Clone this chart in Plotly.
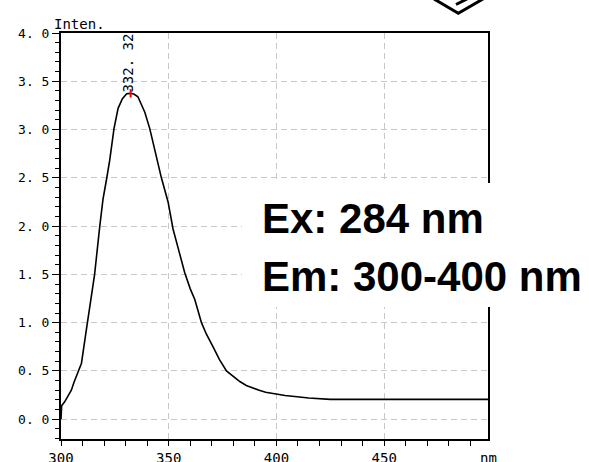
import plotly.graph_objects as go

# ---- data ----
wavelength = [300, 300.3, 301.7, 303, 304.8, 306, 307.6, 309.5, 311.8, 313.3, 315.6, 318, 319.5,
              321.1, 322.6, 324.6, 326.5, 328.5, 330.5, 332.32, 334, 335.7, 338.9, 341.2, 343.5,
              346.6, 349.7, 352, 355, 357.4, 360, 362.1, 365.2, 367.5, 370.6, 373.5, 376.8, 380,
              383, 386, 389.2, 392, 395, 400, 404, 408.5, 415, 425, 450, 475, 498.2]
intensity = [0.0, 0.14, 0.18, 0.23, 0.30, 0.38, 0.48, 0.58, 0.93, 1.14, 1.5, 2.0, 2.28,
             2.48, 2.68, 3.01, 3.22, 3.32, 3.37, 3.375, 3.365, 3.34, 3.18, 3.01, 2.80,
             2.50, 2.25, 1.97, 1.72, 1.52, 1.35, 1.24, 1.0, 0.88, 0.75, 0.62, 0.5, 0.44,
             0.39, 0.35, 0.32, 0.30, 0.28, 0.26, 0.245, 0.235, 0.22, 0.205, 0.205, 0.205, 0.205]
peak_x = [332.32]
peak_y = [3.375]
peak_label = "332. 32"
y_tickvals = [0.0, 0.5, 1.0, 1.5, 2.0, 2.5, 3.0, 3.5, 4.0]
y_ticktext = ["0. 0", "0. 5", "1. 0", "1. 5", "2. 0", "2. 5", "3. 0", "3. 5", "4. 0"]
x_tickvals = [300, 350, 400, 450]
x_ticktext = ["300", "350", "400", "450"]
ex_text = "Ex: 284 nm"
em_text = "Em: 300-400 nm"

W, H = 589, 462
L, R, T, B = 61, 488, 33, 439
def px(x):
    return (x - L) / (R - L)
def py(y):
    return (B - y) / (B - T)

mono = "DejaVu Sans Mono"

fig = go.Figure()
fig.add_trace(go.Scatter(x=wavelength, y=intensity, mode="lines",
                         line=dict(color="black", width=1.6), hoverinfo="skip"))
fig.add_trace(go.Scatter(x=peak_x, y=peak_y, mode="markers",
                         marker=dict(symbol="line-ns", size=6, line=dict(color="red", width=2)),
                         hoverinfo="skip"))

fig.update_layout(
    width=W, height=H, showlegend=False,
    margin=dict(l=L, r=W - R, t=T, b=H - B, pad=0, autoexpand=False),
    paper_bgcolor="white", plot_bgcolor="white",
    xaxis=dict(range=[300, 498.2], tickmode="array", tickvals=x_tickvals, ticktext=x_ticktext,
               automargin=False,
               ticks="outside", ticklen=5, tickwidth=1, tickcolor="black",
               tickfont=dict(family=mono, size=14, color="black"),
               showline=True, linecolor="black", linewidth=2, mirror=True,
               showgrid=True, gridcolor="#c8c8c8", gridwidth=1, griddash="6px,4px",
               zeroline=False,
               minor=dict(tickmode="linear", tick0=300, dtick=10, ticks="outside",
                          ticklen=5, tickcolor="black", showgrid=False)),
    yaxis=dict(range=[-0.205, 4.0], tickmode="array", tickvals=y_tickvals, ticktext=y_ticktext,
               automargin=False,
               ticks="outside", ticklen=7, tickwidth=1, tickcolor="black",
               tickfont=dict(family=mono, size=13, color="black"),
               showline=True, linecolor="black", linewidth=2, mirror=True,
               showgrid=True, gridcolor="#c8c8c8", gridwidth=1, griddash="6px,4px",
               zeroline=False,
               minor=dict(tickmode="linear", tick0=0, dtick=0.1, ticks="outside",
                          ticklen=4, tickcolor="black", showgrid=False)),
)

# white box behind the big text
fig.add_shape(type="rect", xref="paper", yref="paper",
              x0=px(242), x1=px(600), y0=py(307), y1=py(183),
              fillcolor="white", line=dict(width=0), layer="above")

# chevron decoration at the top
fig.add_shape(type="path", xref="paper", yref="paper",
              path=f"M {px(434)} {py(-1)} L {px(458.3)} {py(13.3)} L {px(483)} {py(-1)}",
              line=dict(color="black", width=3))
fig.add_shape(type="line", xref="paper", yref="paper",
              x0=px(456), y0=py(4.5), x1=px(467), y1=py(-1),
              line=dict(color="black", width=3))

# axis captions
fig.add_annotation(text="Inten.", xref="paper", yref="paper", x=px(52), y=py(24),
                   xanchor="left", yanchor="middle", showarrow=False,
                   font=dict(family=mono, size=14, color="black"))
fig.add_annotation(text="nm", xref="paper", yref="paper", x=px(488), y=py(458),
                   xanchor="center", yanchor="middle", showarrow=False,
                   font=dict(family=mono, size=14, color="black"))

# peak label
fig.add_annotation(text=peak_label, x=peak_x[0], y=3.69, textangle=-90, showarrow=False,
                   xanchor="center", yanchor="middle", xshift=-3,
                   font=dict(family=mono, size=14, color="black"))

# big text
big = dict(family="Liberation Sans, Arial", size=42, color="black")
fig.add_annotation(text=f"<b>{ex_text}</b>", xref="paper", yref="paper", x=px(260), y=py(218),
                   xanchor="left", yanchor="middle", showarrow=False, font=big)
fig.add_annotation(text=f"<b>{em_text}</b>", xref="paper", yref="paper", x=px(260), y=py(276),
                   xanchor="left", yanchor="middle", showarrow=False, font=big)

fig.write_html("out.html")
